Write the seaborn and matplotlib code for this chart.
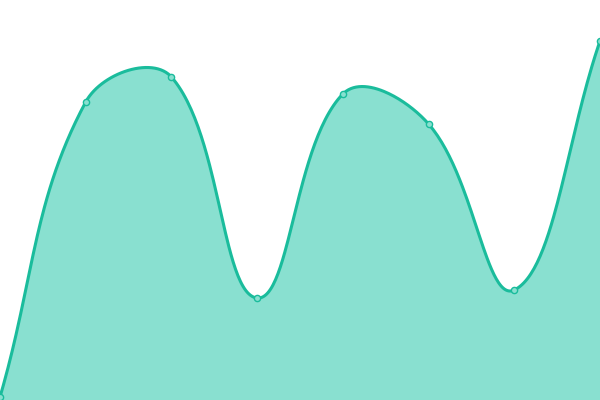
import numpy as np
import pandas as pd
import seaborn as sns
import matplotlib
matplotlib.use("Agg")
import matplotlib.pyplot as plt

# values (0 = bottom edge, 400 = top edge)
labels = ["A", "B", "C", "D", "E", "F", "G", "H"]
values = [3, 298, 323, 102, 306, 276, 110, 359]

LINE = "#1abc9c"
FILL = "#89e0d0"
TENSION = 0.4


def spline_controls(xs, ys, t):
	# chart.js style control points (distance weighted)
	n = len(xs)
	ctrl = []
	for i in range(n):
		p = np.array([xs[i], ys[i]])
		prev = np.array([xs[max(i - 1, 0)], ys[max(i - 1, 0)]])
		nxt = np.array([xs[min(i + 1, n - 1)], ys[min(i + 1, n - 1)]])
		d01 = np.hypot(*(p - prev))
		d12 = np.hypot(*(nxt - p))
		tot = d01 + d12
		s01 = d01 / tot if tot else 0
		s12 = d12 / tot if tot else 0
		fa, fb = t * s01, t * s12
		cp_prev = p - fa * (nxt - prev)
		cp_next = p + fb * (nxt - prev)
		cp_prev[1] = np.clip(cp_prev[1], 0, 400)
		cp_next[1] = np.clip(cp_next[1], 0, 400)
		ctrl.append((cp_prev, cp_next))
	return ctrl


def smooth(xs, ys, t, steps=60):
	ctrl = spline_controls(xs, ys, t)
	px, py = [], []
	s = np.linspace(0, 1, steps)
	for i in range(len(xs) - 1):
		p0 = np.array([xs[i], ys[i]])
		p3 = np.array([xs[i + 1], ys[i + 1]])
		p1 = ctrl[i][1]
		p2 = ctrl[i + 1][0]
		b = ((1 - s) ** 3)[:, None] * p0 + (3 * (1 - s) ** 2 * s)[:, None] * p1 \
			+ (3 * (1 - s) * s ** 2)[:, None] * p2 + (s ** 3)[:, None] * p3
		px.extend(b[:, 0])
		py.extend(b[:, 1])
	return np.array(px), np.array(py)


step = 600 / (len(values) - 1)
xpos = [i * step for i in range(len(values))]
df = pd.DataFrame({"label": labels, "x": xpos, "value": values})

cx, cy = smooth(df["x"].values, df["value"].values, TENSION)
curve = pd.DataFrame({"x": cx, "y": cy})

sns.set_style("white")
fig = plt.figure(figsize=(6, 4), dpi=100)
ax = fig.add_axes([0, 0, 1, 1])
ax.fill_between(curve["x"], 0, curve["y"], color=FILL, linewidth=0)
sns.lineplot(data=curve, x="x", y="y", ax=ax, color=LINE, linewidth=2.2, sort=False)
sns.scatterplot(data=df, x="x", y="value", ax=ax, color=FILL, edgecolor=LINE,
	linewidth=1.0, s=20, zorder=5, clip_on=False)
ax.set_xlim(0, 600)
ax.set_ylim(0, 400)
ax.axis("off")
fig.savefig("out.png", dpi=100)
